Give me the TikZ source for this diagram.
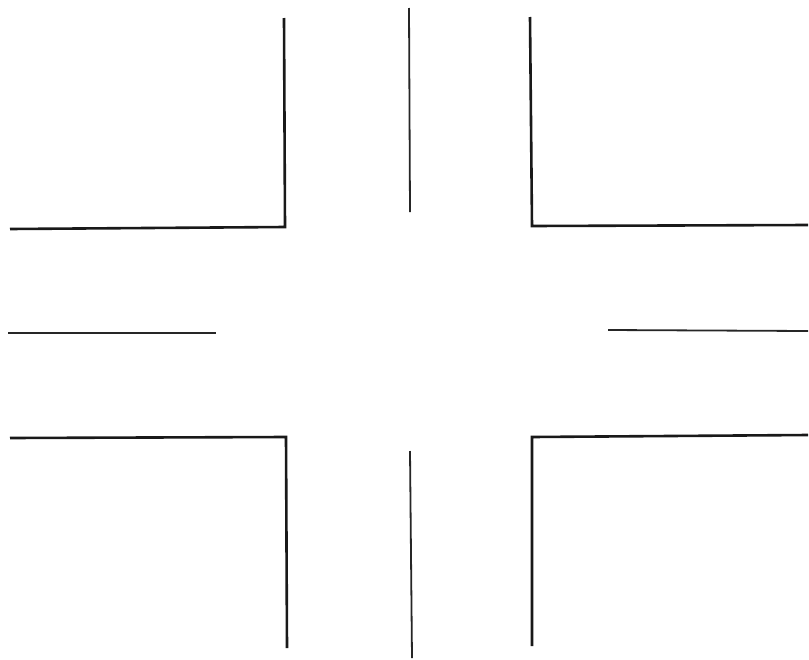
\documentclass[tikz,border=0pt]{standalone}
\begin{document}
\begin{tikzpicture}[x=1pt,y=-1pt,
  curb/.style={line width=2.6pt,line join=miter,color=black!90},
  lane/.style={line width=1.8pt,color=black!85}]
\fill[white] (0,0) rectangle (809,659);
\useasboundingbox (0,0) rectangle (809,659);
% top-left corner
\draw[curb] (284,18) -- (285,227) -- (10,229);
% top-right corner
\draw[curb] (530,17) -- (532,226) -- (808,225);
% bottom-left corner
\draw[curb] (10,438) -- (286,437) -- (287,648);
% bottom-right corner
\draw[curb] (808,435) -- (532,437) -- (532,646);
% lane lines
\draw[lane] (409,8) -- (410,212);
\draw[lane] (410,451) -- (412,658);
\draw[lane] (8,333) -- (216,333);
\draw[lane] (608,330) -- (808,331);
\end{tikzpicture}
\end{document}
